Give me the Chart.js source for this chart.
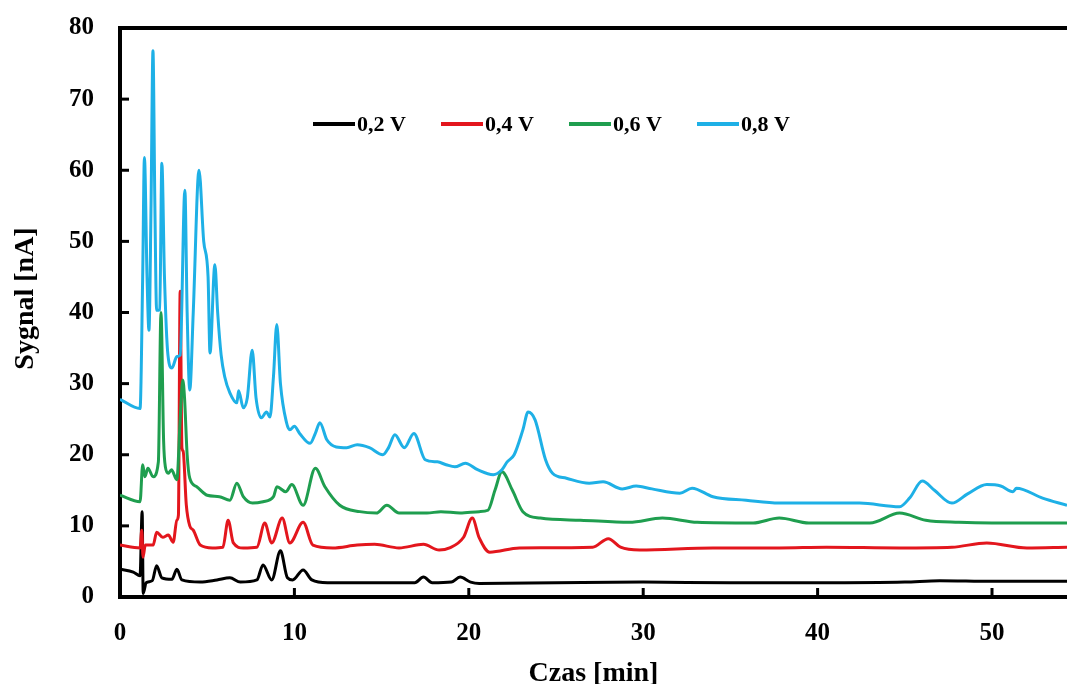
<!DOCTYPE html>
<html>
<head>
<meta charset="utf-8">
<title>Sygnał – Czas</title>
<script src="https://cdn.jsdelivr.net/npm/chart.js@4.4.0/dist/chart.umd.min.js"></script>
<style>
    html, body { margin: 0; padding: 0; background: #fff; }
    #wrap { width: 1067px; height: 684px; }
</style>
</head>
<body>
<div id="wrap"><canvas id="signalChart"></canvas></div>
<script>
// Series names and colours
const seriesLabels = ['0,2 V', '0,4 V', '0,6 V', '0,8 V'];
const seriesColors = ['#000000', '#e3161d', '#1f9e4f', '#1eb0e6'];

// Axis ticks
const xTickValues = [0, 10, 20, 30, 40, 50];
const yTickValues = [0, 10, 20, 30, 40, 50, 60, 70, 80];

// 0,2 V - time [min] / signal [nA]
const time02 = [0, 0.76, 1.15, 1.27, 1.33, 1.5, 1.85, 2.1, 2.4, 2.98, 3.26, 3.55, 4.6, 5.56, 6.3, 6.9, 7.85, 8.2, 8.7, 9.2,
    9.6, 9.9, 10.5, 11.0, 11.9, 16.0, 16.9, 17.4, 17.9, 19.0, 19.5, 20.1, 20.6, 25, 30, 35, 40, 45, 47, 50, 54.3];
const signal02 = [3.9, 3.5, 3.0, 12, 0.5, 2.0, 2.3, 4.4, 2.7, 2.5, 3.9, 2.4, 2.1, 2.4, 2.7, 2.1, 2.4, 4.5, 2.4, 6.5,
    2.7, 2.4, 3.8, 2.4, 2.0, 2.0, 2.0, 2.8, 2.0, 2.1, 2.8, 2.1, 1.9, 2.0, 2.1, 2.0, 2.0, 2.1, 2.3, 2.2, 2.2];

// 0,4 V
const time04 = [0, 1.15, 1.25, 1.32, 1.45, 1.9, 2.1, 2.45, 2.77, 3.05, 3.26, 3.35, 3.45, 3.55, 3.62, 3.8, 4.0, 4.2, 4.6, 5.3,
    5.9, 6.2, 6.5, 7.07, 7.85, 8.3, 8.7, 9.3, 9.74, 10.5, 11.06, 12.2, 13.6, 14.6, 16.0, 17.4, 18.3, 18.9, 19.7, 20.2,
    20.6, 21.2, 22.9, 27.1, 28.0, 28.7, 29.8, 34.0, 37.8, 40.5, 44.7, 47.7, 49.7, 52.0, 54.3];
const signal04 = [7.3, 6.9, 9.4, 5.6, 7.3, 7.3, 9.1, 8.4, 8.7, 7.7, 10.8, 11.5, 43, 21, 20.5, 13, 10, 9.4, 7.3, 6.9,
    7, 10.8, 7.6, 6.9, 7, 10.4, 7.6, 11.1, 7.6, 10.5, 7.3, 6.9, 7.3, 7.4, 6.9, 7.4, 6.6, 6.9, 8.4, 11.1,
    8.3, 6.3, 6.9, 7, 8.2, 7, 6.6, 6.9, 6.9, 7, 6.9, 7, 7.6, 6.9, 7];

// 0,6 V
const time06 = [0, 1.15, 1.3, 1.43, 1.6, 1.9, 2.2, 2.35, 2.5, 2.6, 2.77, 2.95, 3.26, 3.45, 3.6, 3.7, 3.85, 4.0, 4.4, 5.0,
    5.7, 6.3, 6.7, 7.07, 7.6, 8.2, 8.8, 9.0, 9.5, 9.85, 10.5, 11.2, 11.75, 12.6, 13.75, 14.7, 15.3, 16.0, 17.6, 18.4,
    19.5, 20.6, 21.1, 21.5, 21.9, 22.5, 23.1, 24.1, 26.4, 29.2, 31.1, 33.1, 36.3, 37.8, 39.5, 43.0, 44.7, 46.2, 48.1, 50.0,
    54.3];
const signal06 = [14.3, 13.4, 18.6, 16.9, 18.1, 16.9, 19, 40, 22, 18.3, 17.4, 17.9, 16.5, 25, 30.5, 28, 20, 16.7, 15.5, 14.3,
    14.1, 13.6, 16, 14.1, 13.2, 13.4, 14.1, 15.5, 14.8, 15.8, 12.9, 18.1, 15.5, 12.9, 12, 11.8, 12.9, 11.8, 11.8, 12,
    11.8, 12, 12.2, 15, 17.6, 15, 12, 11.1, 10.8, 10.5, 11.1, 10.5, 10.4, 11.1, 10.4, 10.4, 11.8, 10.8, 10.5, 10.4,
    10.4];

// 0,8 V
const time08 = [0, 1.15, 1.3, 1.4, 1.55, 1.66, 1.78, 1.89, 2.0, 2.1, 2.28, 2.4, 2.55, 2.75, 2.98, 3.26, 3.45, 3.72, 3.85, 4.0,
    4.2, 4.53, 4.8, 5.05, 5.16, 5.44, 5.6, 5.8, 6.0, 6.3, 6.7, 6.8, 7.07, 7.3, 7.58, 7.8, 8.1, 8.4, 8.6, 8.8,
    8.99, 9.2, 9.55, 9.74, 10.0, 10.3, 10.9, 11.2, 11.46, 11.86, 12.4, 13.0, 13.6, 14.3, 15.07, 15.4, 15.76, 16.3, 16.85, 17.5,
    18.2, 18.7, 19.2, 19.8, 20.5, 21.4, 21.9, 22.2, 22.6, 23.1, 23.4, 23.8, 24.4, 24.8, 25.6, 26.9, 27.7, 28.8, 29.6, 30.5,
    32.1, 32.8, 34.0, 35.9, 37.8, 40.5, 42.4, 44.7, 45.3, 46.0, 46.7, 47.7, 48.6, 49.7, 50.5, 51.2, 51.4, 52.9, 54.3];
const signal08 = [27.8, 26.5, 45, 61.8, 45, 37.5, 55, 76.8, 55, 40.3, 40.4, 61, 45, 34, 32.2, 33.8, 34, 57.2, 40, 29.1,
    40, 60, 50, 45, 34.3, 46.7, 40, 34, 31, 28.7, 27.3, 29, 26.6, 28, 34.7, 28, 25.2, 26, 25.3, 31,
    38.3, 30, 24.5, 23.5, 24, 23, 21.6, 23, 24.5, 22.1, 21.1, 21, 21.4, 21, 20, 21, 22.8, 21, 23, 19.3,
    19, 18.6, 18.3, 18.8, 17.9, 17.2, 17.9, 19, 20, 23.5, 26, 24.9, 19.3, 17.4, 16.7, 16, 16.2, 15.2, 15.6, 15.2,
    14.6, 15.3, 14.1, 13.6, 13.2, 13.2, 13.2, 12.7, 14, 16.3, 15, 13.2, 14.5, 15.8, 15.6, 14.8, 15.3, 13.9, 12.9];

const seriesTimes = [time02, time04, time06, time08];
const seriesSignals = [signal02, signal04, signal06, signal08];

const FONT = "'Liberation Serif', 'Times New Roman', serif";

// Pair up x/y arrays into points for the line datasets
function toPoints(xs, ys) {
    return xs.map((x, i) => ({ x: x, y: ys[i] }));
}

const datasets = seriesLabels.map((label, i) => ({
    label: label,
    data: toPoints(seriesTimes[i], seriesSignals[i]),
    borderColor: seriesColors[i],
    backgroundColor: seriesColors[i],
    borderWidth: 3,
    pointRadius: 0,
    cubicInterpolationMode: 'monotone',
    fill: false,
    order: seriesLabels.length - 1 - i // last series on top
}));

// Top border, inward tick marks and the legend inside the plot
const framePlugin = {
    id: 'frame',
    afterDraw(chart) {
        const { ctx, chartArea, scales } = chart;
        ctx.save();
        ctx.strokeStyle = '#000';
        ctx.lineWidth = 4;
        ctx.beginPath();
        ctx.moveTo(chartArea.left - 2, chartArea.top);
        ctx.lineTo(chartArea.right, chartArea.top);
        ctx.stroke();

        ctx.lineWidth = 3;
        scales.x.ticks.forEach(t => {
            const px = scales.x.getPixelForValue(t.value);
            ctx.beginPath();
            ctx.moveTo(px, chartArea.bottom);
            ctx.lineTo(px, chartArea.bottom - 9);
            ctx.stroke();
        });
        scales.y.ticks.forEach(t => {
            const py = scales.y.getPixelForValue(t.value);
            ctx.beginPath();
            ctx.moveTo(chartArea.left, py);
            ctx.lineTo(chartArea.left + 9, py);
            ctx.stroke();
        });

        // legend
        ctx.font = 'bold 22px ' + FONT;
        ctx.textBaseline = 'middle';
        ctx.textAlign = 'left';
        chart.data.datasets.forEach((ds, i) => {
            const x0 = 313 + i * 128;
            const y0 = 124;
            ctx.strokeStyle = ds.borderColor;
            ctx.lineWidth = 4;
            ctx.beginPath();
            ctx.moveTo(x0, y0);
            ctx.lineTo(x0 + 42, y0);
            ctx.stroke();
            ctx.fillStyle = '#000';
            ctx.fillText(ds.label, x0 + 44, y0 + 1);
        });
        ctx.restore();
    }
};

const ctx = document.getElementById('signalChart').getContext('2d');
new Chart(ctx, {
    type: 'line',
    data: { datasets: datasets },
    plugins: [framePlugin],
    options: {
        responsive: true,
        maintainAspectRatio: false,
        animation: false,
        layout: { padding: { top: 28, right: 0, bottom: 0, left: 0 } },
        plugins: {
            legend: { display: false },
            tooltip: { enabled: false }
        },
        scales: {
            x: {
                type: 'linear',
                min: 0,
                max: 54.3,
                afterBuildTicks: (scale) => { scale.ticks = xTickValues.map(v => ({ value: v })); },
                afterFit: (scale) => { scale.height = 87; },
                ticks: {
                    color: '#000',
                    padding: 0,
                    maxRotation: 0,
                    font: { family: FONT, size: 25, weight: 'bold' }
                },
                // invisible tick marks just push the labels away from the axis
                grid: { display: true, drawOnChartArea: false, drawTicks: true, tickLength: 22, tickColor: 'rgba(0,0,0,0)' },
                border: { display: true, color: '#000', width: 4 },
                title: {
                    display: true,
                    text: 'Czas [min]',
                    color: '#000',
                    padding: { top: 0, bottom: 0 },
                    font: { family: FONT, size: 28, weight: 'bold', lineHeight: 0.7 }
                }
            },
            y: {
                min: 0,
                max: 80,
                afterBuildTicks: (scale) => { scale.ticks = yTickValues.map(v => ({ value: v })); },
                afterFit: (scale) => { scale.width = 120; },
                ticks: {
                    color: '#000',
                    padding: 0,
                    font: { family: FONT, size: 25, weight: 'bold' }
                },
                grid: { display: true, drawOnChartArea: false, drawTicks: true, tickLength: 26, tickColor: 'rgba(0,0,0,0)' },
                border: { display: true, color: '#000', width: 4 },
                title: {
                    display: true,
                    text: '    Sygnal [nA]',
                    color: '#000',
                    padding: { top: 16, bottom: 0 },
                    font: { family: FONT, size: 28, weight: 'bold', lineHeight: 0.7 }
                }
            }
        }
    }
});
</script>
</body>
</html>
